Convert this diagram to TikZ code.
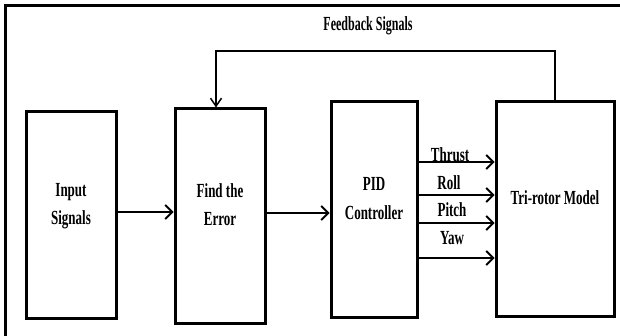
\documentclass[tikz,border=0pt]{standalone}
\usepackage{fontspec}
\setmainfont{Liberation Serif}
\usepackage{graphicx}
\usetikzlibrary{arrows.meta}
\newcommand{\sq}[1]{\scalebox{0.65}[1]{#1}}
\newcommand{\boxtxt}[1]{\raisebox{10pt}[\height][\depth]{\begin{tabular}{@{}c@{}}#1\end{tabular}}}
\tikzset{
  blk/.style={draw, line width=3pt, rectangle, inner sep=0pt,
    font=\bfseries\fontsize{20}{28.5}\selectfont},
  lab/.style={font=\bfseries\fontsize{20}{24}\selectfont, inner sep=0pt},
  sig/.style={line width=1.8pt, -{Straight Barb[length=7pt,width=14pt,line width=1.8pt]}},
  fb/.style={line width=1.5pt, -{Straight Barb[length=8pt,width=11pt,line width=1.5pt]}},
}
\begin{document}
\begin{tikzpicture}[x=1pt,y=-1pt]
  \useasboundingbox (0,0) rectangle (620,336);
  % frame
  \draw[line width=3pt] (620,6) -- (5,6) -- (5,336);
  % blocks
  \node[blk, minimum width=90pt, minimum height=206pt] (inp) at (71,215)
    {\boxtxt{\sq{Input}\\\sq{Signals}}};
  \node[blk, minimum width=90pt, minimum height=214pt] (find) at (220,216)
    {\boxtxt{\sq{Find the}\\\sq{Error}}};
  \node[blk, minimum width=86pt, minimum height=215pt] (pid) at (374,209.5)
    {\boxtxt{\sq{PID}\\\sq{Controller}}};
  \node[blk, minimum width=118pt, minimum height=214pt] (tri) at (555,209)
    {\boxtxt{\sq{Tri-rotor Model}}};
  % signals
  \draw[sig] (inp.east |- 0,212) -- (find.west |- 0,212);
  \draw[sig] (find.east |- 0,213) -- (pid.west |- 0,213);
  \foreach \yy in {162,195,223,258}
    \draw[sig] (pid.east |- 0,\yy) -- (tri.west |- 0,\yy);
  \node[lab] (thr) at (450,155) {\sq{Thrust}};
  \node[lab] (rol) at (449,183) {\sq{Roll}};
  \node[lab] (pit) at (452,210) {\sq{Pitch}};
  \node[lab] (yaw) at (452,238) {\sq{Yaw}};
  % feedback
  \draw[fb] (tri.north) -- (tri.north |- 0,51) -| ([xshift=-4pt]find.north);
  \node[lab] (fbl) at (368,26) {\scalebox{0.6}[1]{Feedback Signals}};
\end{tikzpicture}
\end{document}
